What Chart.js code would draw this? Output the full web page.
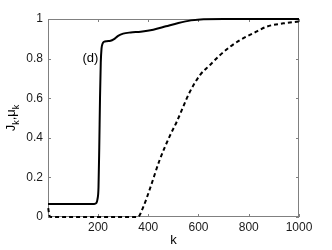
<!DOCTYPE html>
<html lang="en">
<head>
  <meta charset="UTF-8">
  <title>J_k, mu_k vs k</title>
  <script src="https://cdn.jsdelivr.net/npm/chart.js"></script>
  <style>
    * { box-sizing: border-box; }
    body { margin: 0; background: #fff; }
    #wrap { width: 332px; height: 250px; }
  </style>
</head>
<body>
  <div id="wrap"><canvas id="chart" width="332" height="250"></canvas></div>

  <script>
    // solid curve J_k
    const jK = [1, 100, 185, 193, 198, 202, 205, 208, 211, 214, 218, 224, 235, 250, 262, 280, 300, 330, 370, 420, 470, 520, 570, 620, 700, 800, 1000];
    const jVal = [0.066, 0.066, 0.066, 0.07, 0.09, 0.15, 0.35, 0.6, 0.78, 0.85, 0.875, 0.885, 0.888, 0.89, 0.897, 0.915, 0.926, 0.932, 0.936, 0.946, 0.963, 0.98, 0.993, 0.999, 1, 1, 1];
    // dashed curve mu_k
    const muK = [2, 6, 12, 200, 358, 380, 406, 446, 486, 513, 566, 606, 646, 686, 726, 766, 818, 873, 938, 1000];
    const muVal = [0.045, 0.01, 0, 0, 0, 0.05, 0.14, 0.29, 0.41, 0.48, 0.633, 0.717, 0.768, 0.818, 0.86, 0.894, 0.928, 0.962, 0.978, 0.987];

    const xTicks = [200, 400, 600, 800, 1000];
    const yTicks = [0, 0.2, 0.4, 0.6, 0.8, 1];

    const axisGray = '#808080';
    const txtFont = '"Liberation Sans", Arial, sans-serif';

    const pts = (xs, ys) => xs.map((x, i) => ({ x: x, y: ys[i] }));

    const frame = {
      id: 'frame',
      beforeDatasetsDraw(chart) {
        const { ctx, chartArea: a, scales } = chart;
        ctx.save();
        ctx.strokeStyle = axisGray;
        ctx.lineWidth = 1;
        ctx.strokeRect(a.left + 0.5, a.top + 0.5, a.right - a.left - 1, a.bottom - a.top - 1);
        ctx.beginPath();
        xTicks.forEach(v => {
          const px = Math.round(scales.x.getPixelForValue(v)) + 0.5;
          ctx.moveTo(px, a.bottom); ctx.lineTo(px, a.bottom - 3);
          ctx.moveTo(px, a.top); ctx.lineTo(px, a.top + 3);
        });
        yTicks.forEach(v => {
          const py = Math.round(scales.y.getPixelForValue(v)) + 0.5;
          ctx.moveTo(a.left, py); ctx.lineTo(a.left + 3, py);
          ctx.moveTo(a.right, py); ctx.lineTo(a.right - 3, py);
        });
        ctx.stroke();
        ctx.restore();
      },
      afterDraw(chart) {
        const { ctx, chartArea: a, scales } = chart;
        ctx.save();
        ctx.fillStyle = '#000';
        // x title
        ctx.font = '13px ' + txtFont;
        ctx.textAlign = 'center';
        ctx.textBaseline = 'middle';
        ctx.fillText('k', (a.left + a.right) / 2, 240);
        // annotation
        ctx.fillText('(d)', scales.x.getPixelForValue(170), scales.y.getPixelForValue(0.80));
        // y title with subscripts, rotated
        ctx.translate(15, (a.top + a.bottom) / 2);
        ctx.rotate(-Math.PI / 2);
        const parts = [['J', 13, 0], ['k', 9, 4], [',', 13, 0], ['\u03bc', 13, 0], ['k', 9, 4]];
        let w = 0;
        parts.forEach(p => { ctx.font = p[1] + 'px ' + txtFont; w += ctx.measureText(p[0]).width; });
        let cx = -w / 2;
        ctx.textAlign = 'left';
        ctx.textBaseline = 'alphabetic';
        parts.forEach(p => {
          ctx.font = p[1] + 'px ' + txtFont;
          ctx.fillText(p[0], cx, p[2]);
          cx += ctx.measureText(p[0]).width;
        });
        ctx.restore();
      }
    };

    new Chart(document.getElementById('chart'), {
      type: 'line',
      data: {
        datasets: [
          {
            data: pts(jK, jVal),
            borderColor: '#000',
            borderWidth: 2,
            pointRadius: 0,
            cubicInterpolationMode: 'monotone',
            clip: false
          },
          {
            data: pts(muK, muVal),
            borderColor: '#000',
            borderWidth: 2,
            borderDash: [4, 3],
            pointRadius: 0,
            cubicInterpolationMode: 'monotone',
            clip: false
          }
        ]
      },
      options: {
        responsive: false,
        animation: false,
        layout: { padding: { top: 19, right: 33, left: 0, bottom: 0 } },
        plugins: { legend: { display: false }, tooltip: { enabled: false } },
        scales: {
          x: {
            type: 'linear',
            min: 1,
            max: 1000,
            grid: { display: false, drawTicks: false },
            border: { display: false },
            afterBuildTicks: s => { s.ticks = xTicks.map(v => ({ value: v })); },
            afterFit: s => { s.height = 33; },
            ticks: { color: '#1a1a1a', font: { family: txtFont, size: 12 }, padding: 3, maxRotation: 0,
                     callback: v => String(v) }
          },
          y: {
            min: 0,
            max: 1,
            grid: { display: false, drawTicks: false },
            border: { display: false },
            afterBuildTicks: s => { s.ticks = yTicks.map(v => ({ value: v })); },
            afterFit: s => { s.width = 48; },
            ticks: { color: '#1a1a1a', font: { family: txtFont, size: 12 }, padding: 5,
                     callback: v => String(v) }
          }
        }
      },
      plugins: [frame]
    });
  </script>
</body>
</html>
